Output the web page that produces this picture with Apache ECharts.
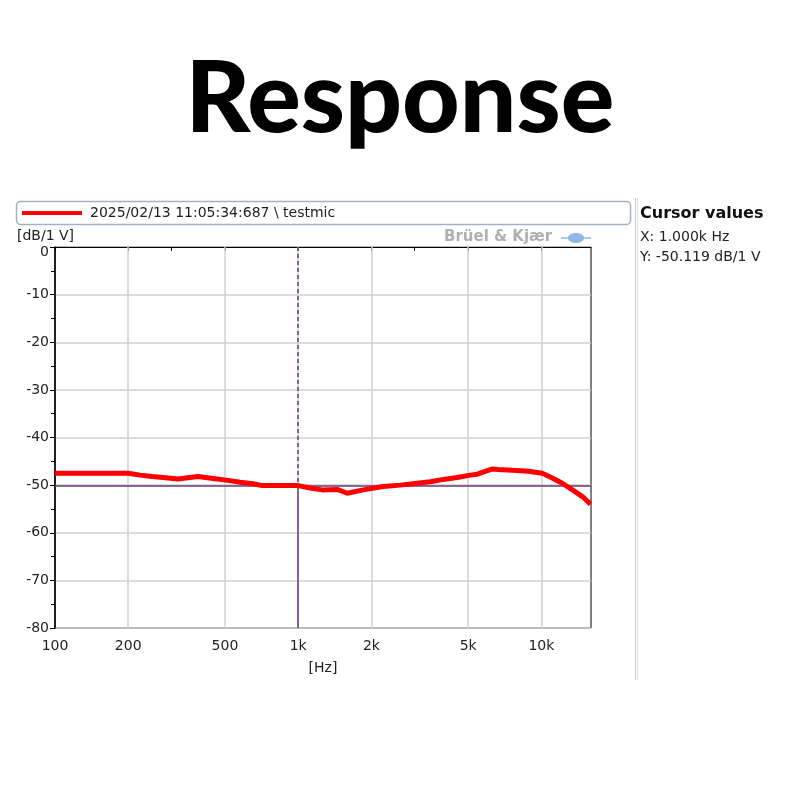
<!DOCTYPE html>
<html>
<head>
<meta charset="utf-8">
<script src="https://cdn.jsdelivr.net/npm/echarts@6/dist/echarts.min.js"></script>
<style>
html,body{margin:0;padding:0;background:#fff;}
#main{width:800px;height:800px;}
</style>
</head>
<body>
<div id="main"></div>
<script>
// ---- data ----
const seriesName = '2025/02/13 11:05:34:687 \\ testmic';
const freqs = [100,200,224,251,278,320,387,447,515,577,653,711,1000,1119,1255,1446,1591,1851,2237,2630,3090,3493,3953,4510,5103,5454,6286,6653,7600,8847,10090,11090,12190,13420,14750,15920];
const levels = [-47.5,-47.5,-47.9,-48.2,-48.4,-48.7,-48.2,-48.6,-49.0,-49.4,-49.7,-50.1,-50.1,-50.6,-51.0,-50.9,-51.7,-51.0,-50.3,-50.0,-49.6,-49.3,-48.8,-48.4,-47.9,-47.7,-46.6,-46.7,-46.9,-47.1,-47.5,-48.5,-49.6,-51.0,-52.4,-54.0];
const xTickValues = [100,200,500,1000,2000,5000,10000];
const xTickLabels = ['100','200','500','1k','2k','5k','10k'];
const xMinorTicks = [300,3000];
const cursorX = 1000;
const cursorY = -50.119;
const xMin = 100, xMax = 16000;
const yMin = -80, yMax = 0, yStep = 10;

const chart = echarts.init(document.getElementById('main'), null, {renderer:'canvas'});
const font = 'DejaVu Sans';
const purple = '#6a3a78';
const gridColor = '#d0d0d0';

const lineData = freqs.map((f,i)=>[f, levels[i]]);
const labelMap = {};
xTickValues.forEach((v,i)=>{labelMap[v]=xTickLabels[i];});

const option = {
  animation:false,
  backgroundColor:'#fff',
  title:{
    text:'Response', left:'center', top:45,
    textStyle:{fontFamily:'Lato', fontWeight:900, fontSize:100, color:'#000'}
  },
  legend:{
    left:17, top:206, padding:[0,5,0,5],
    icon:'rect', itemWidth:60, itemHeight:4, itemGap:10,
    textStyle:{fontFamily:font, fontSize:14, color:'#222', padding:[0,0,0,3]},
    data:[seriesName]
  },
  grid:{left:55, right:209, top:247, bottom:172, show:true, borderColor:'#000', borderWidth:1, backgroundColor:'#fff'},
  xAxis:{
    type:'log', logBase:10, min:xMin, max:xMax,
    name:'[Hz]', nameLocation:'middle', nameGap:33,
    nameTextStyle:{fontFamily:font, fontSize:14, color:'#222'},
    axisLine:{show:true, lineStyle:{color:'#000', width:1}},
    axisTick:{show:true, length:4, inside:false, lineStyle:{color:'#000'}, customValues:xTickValues.concat(xMinorTicks)},
    axisLabel:{fontFamily:font, fontSize:14, color:'#222', margin:11, customValues:xTickValues,
      formatter:(v)=> labelMap[Math.round(v)] !== undefined ? labelMap[Math.round(v)] : ''},
    splitLine:{show:false},
    minorTick:{show:false}, minorSplitLine:{show:false}
  },
  yAxis:{
    type:'value', min:yMin, max:yMax, interval:yStep,
    axisLine:{show:true, lineStyle:{color:'#000', width:1.5}},
    axisTick:{show:true, length:5, lineStyle:{color:'#000'}},
    minorTick:{show:true, splitNumber:2, length:4, lineStyle:{color:'#000'}},
    axisLabel:{fontFamily:font, fontSize:14, color:'#222', margin:6,
      formatter:(v)=> v === yMax ? '{top|' + v + '}' : String(v),
      rich:{top:{fontFamily:font, fontSize:14, color:'#222', padding:[11,0,0,0]}}},
    splitLine:{show:true, lineStyle:{color:gridColor, width:1.5}}
  },
  graphic:[
    {type:'rect', shape:{x:16.5, y:201.5, width:614, height:23, r:4}, style:{fill:'none', stroke:'#9fb3c8', lineWidth:1.5}, z:-1},
    {type:'text', left:17, top:229, style:{text:'[dB/1 V]', font:'14px "DejaVu Sans"', fill:'#222'}},
    {type:'text', left:444, top:230, style:{text:'Brüel & Kjær', font:'bold 15px "DejaVu Sans"', fill:'#b0b0b0'}},
    {type:'ellipse', shape:{cx:576, cy:238, rx:8, ry:5}, style:{fill:'#8fb8e8'}},
    {type:'line', shape:{x1:561, y1:238, x2:591, y2:238}, style:{stroke:'#8fb8e8', lineWidth:1.5}},
    {type:'line', shape:{x1:635.5, y1:198, x2:635.5, y2:680}, style:{stroke:'#c8c8c8', lineWidth:1}},
    {type:'line', shape:{x1:637.5, y1:198, x2:637.5, y2:680}, style:{stroke:'#e4e4e4', lineWidth:1}},
    {type:'text', left:640, top:206, style:{text:'Cursor values', font:'bold 16px "DejaVu Sans"', fill:'#111'}},
    {type:'text', left:640, top:230, style:{text:'X: 1.000k Hz', font:'14px "DejaVu Sans"', fill:'#222'}},
    {type:'text', left:640, top:250, style:{text:'Y: -50.119 dB/1 V', font:'14px "DejaVu Sans"', fill:'#222'}}
  ],
  series:[
    {
      name:seriesName, type:'line', data:lineData, showSymbol:false, symbol:'none',
      lineStyle:{color:'#ff0000', width:5}, itemStyle:{color:'#ff0000'}, z:5,
      markLine:{
        silent:true, symbol:['none','none'], label:{show:false}, z:1,
        lineStyle:{color:gridColor, width:1.5, type:'solid'},
        data: xTickValues.slice(1).map(v=>({xAxis:v}))
      }
    },
    {
      name:'cursor', type:'line', data:[], z:6,
      markLine:{
        silent:true, symbol:['none','none'], label:{show:false},
        data:[
          [{coord:[xMin,cursorY]},{coord:[xMax,cursorY]}],
          [{coord:[cursorX,yMax], lineStyle:{type:[4,3]}},{coord:[cursorX,cursorY]}],
          [{coord:[cursorX,cursorY]},{coord:[cursorX,yMin]}]
        ],
        lineStyle:{color:purple, width:1.5, type:'solid'}
      }
    }
  ]
};
chart.setOption(option);
</script>
</body>
</html>
